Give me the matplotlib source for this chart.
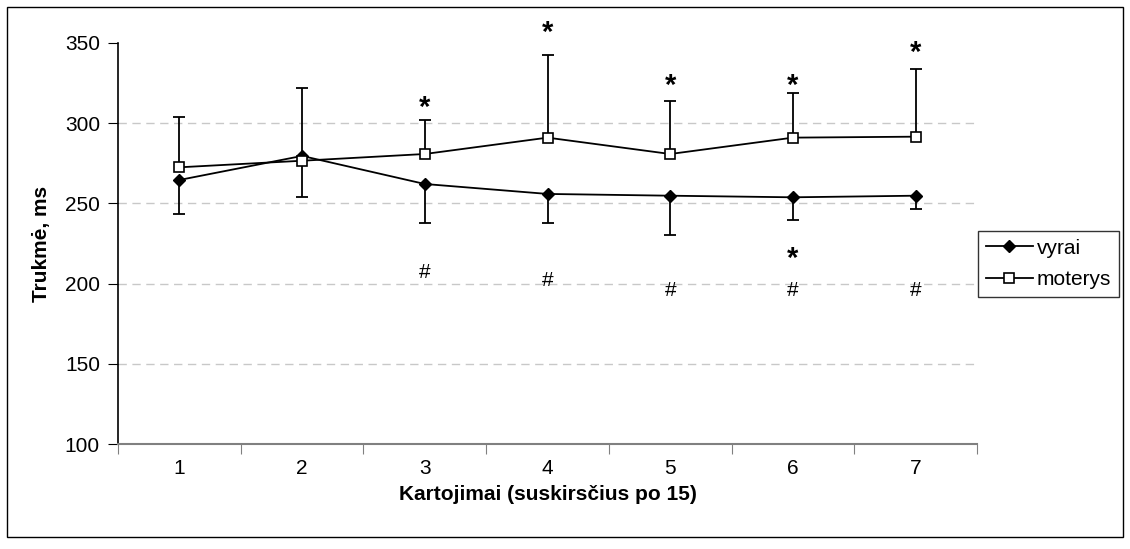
import numpy as np
from matplotlib import pyplot as plt
from matplotlib.patches import Rectangle

plt.rcParams['font.family'] = ['Liberation Sans', 'DejaVu Sans']

kartojimai = [1, 2, 3, 4, 5, 6, 7]
vyrai = [264.6, 279.6, 262.1, 255.9, 254.8, 253.8, 254.8]
vyrai_sd = [21.4, 25.8, 24.1, 17.9, 24.5, 13.9, 8.5]
moterys = [272.5, 276.6, 280.8, 291.0, 280.8, 291.0, 291.6]
moterys_sd = [31.2, 45.5, 21.2, 51.5, 32.8, 28.0, 42.2]

# significance marks: (kartojimas, y value)
stars_top = [(3, 313), (4, 360), (5, 327), (6, 327), (7, 347)]
stars_low = [(6, 219)]
hashes = [(3, 207), (4, 202), (5, 196), (6, 196), (7, 196)]

y_ticks = [100, 150, 200, 250, 300, 350]

fig = plt.figure(figsize=(11.3, 5.49), dpi=100)
ax = fig.add_axes([118 / 1130, 1 - 444 / 549, 859 / 1130, 401 / 549])

x = np.array(kartojimai)
zeros = np.zeros(len(x))

for vals, sd, lower in [(vyrai, vyrai_sd, True), (moterys, moterys_sd, False)]:
    err = [sd, zeros] if lower else [zeros, sd]
    eb = ax.errorbar(x, vals, yerr=err, fmt='none', ecolor='black',
                     elinewidth=1.3, capsize=4.4, capthick=1.3, zorder=2)
    for cap in eb[1]:
        if np.allclose(cap.get_ydata(), vals):
            cap.remove()

ax.plot(x, vyrai, color='black', lw=1.3, marker='D', ms=6.3,
        mfc='black', mec='black', label='vyrai', zorder=3)
ax.plot(x, moterys, color='black', lw=1.3, marker='s', ms=6.8,
        mfc='white', mec='black', mew=1.2, label='moterys', zorder=3)

for v in y_ticks[1:-1]:
    ax.axhline(v, color='#c8c8c8', lw=1, ls=(0, (6, 4)), zorder=0)

for k, v in stars_top + stars_low:
    ax.annotate('*', (k, v), xytext=(0, -4), textcoords='offset points',
                ha='center', va='center', fontsize=21, fontweight='bold',
                annotation_clip=False)
for k, v in hashes:
    ax.text(k, v, '#', ha='center', va='center', fontsize=15)

ax.set_xlim(0.5, 7.5)
ax.set_ylim(100, 350)
ax.set_yticks(y_ticks)
ax.set_xticks(np.arange(0.5, 8, 1))
ax.set_xticklabels([])
ax.set_xticks(x, minor=True)
ax.set_xticklabels([str(k) for k in kartojimai], minor=True)
ax.tick_params(axis='x', which='minor', length=0, pad=11, labelsize=15)
ax.tick_params(axis='x', which='major', length=7, color='#808080', direction='out')
ax.tick_params(axis='y', length=7, direction='out', labelsize=15, pad=6)

ax.spines['top'].set_visible(False)
ax.spines['right'].set_visible(False)
ax.spines['bottom'].set_color('#808080')
ax.spines['bottom'].set_linewidth(1.5)
ax.spines['left'].set_linewidth(1.2)

ax.set_xlabel('Kartojimai (suskirsčius po 15)', fontsize=15, fontweight='bold', labelpad=5)
ax.set_ylabel('Trukmė, ms', fontsize=15, fontweight='bold', labelpad=10)

leg = fig.legend(loc='lower left', bbox_to_anchor=(978 / 1130, 1 - 297 / 549),
                 fontsize=15, frameon=True, fancybox=False, handlelength=2.25,
                 borderaxespad=0, handletextpad=0.2, borderpad=0.38, labelspacing=0.6)
leg.get_frame().set_edgecolor('black')
leg.get_frame().set_linewidth(1)

fig.patches.append(Rectangle((7 / 1130, 12 / 549), 1116 / 1130, 530 / 549,
                             transform=fig.transFigure, fill=False,
                             edgecolor='black', lw=1))

fig.savefig('out.png', dpi=100)
